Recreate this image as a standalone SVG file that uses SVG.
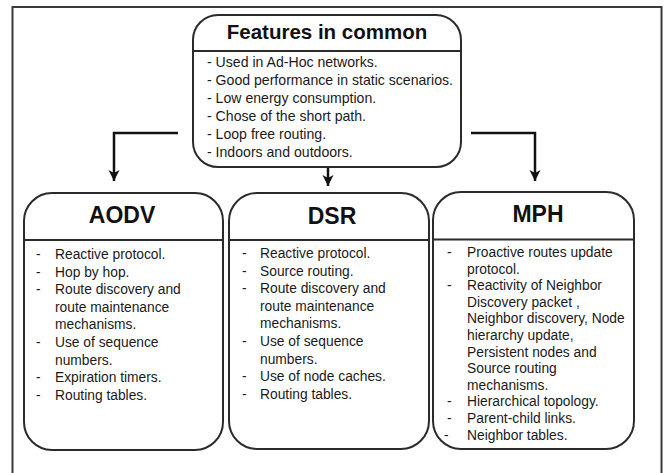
<svg xmlns="http://www.w3.org/2000/svg" width="666" height="473" viewBox="0 0 666 473">
<defs>
<style>
.frame{fill:#fff;stroke:#3a3a3a;stroke-width:2}
.box{fill:#fff;stroke:#2b2b2b;stroke-width:2}
.div{stroke:#2b2b2b;stroke-width:2}
.hd{font-family:"Liberation Sans",Arial,sans-serif;font-weight:bold;fill:#111;text-anchor:middle}
.tx{font-family:"Liberation Sans",Arial,sans-serif;font-size:13.8px;fill:#1a1a1a}
.tt{font-size:14.1px}
.conn{fill:none;stroke:#111;stroke-width:2.5}
</style>
<marker id="ah" markerUnits="userSpaceOnUse" markerWidth="12" markerHeight="12" viewBox="0 0 12 12" refX="11" refY="6" orient="auto">
<path d="M0,0.5 L11,6 L0,11.5 L3,6 z" fill="#111"/>
</marker>
</defs>
<rect x="0" y="0" width="666" height="473" fill="#fff"/>
<rect class="frame" x="12.5" y="7" width="649" height="480"/>

<g id="connectors">
<path class="conn" d="M178,133 H114 V181" marker-end="url(#ah)"/>
<path class="conn" d="M328,168 V186" marker-end="url(#ah)"/>
<path class="conn" d="M471,133 H535 V181" marker-end="url(#ah)"/>
</g>

<g id="common">
<rect class="box" x="193" y="15" width="268" height="152" rx="25"/>
<line class="div" x1="193" y1="51" x2="461" y2="51"/>
<text class="hd" x="327" y="39" font-size="20.5">Features in common</text>
<g class="tx tt">
<text x="207" y="67">- Used in Ad-Hoc networks.</text>
<text x="207" y="85">- Good performance in static scenarios.</text>
<text x="207" y="103">- Low energy consumption.</text>
<text x="207" y="121">- Chose of the short path.</text>
<text x="207" y="139">- Loop free routing.</text>
<text x="207" y="157">- Indoors and outdoors.</text>
</g>
</g>

<g id="aodv">
<rect class="box" x="24" y="193" width="199" height="257" rx="28"/>
<line class="div" x1="24" y1="240" x2="223" y2="240"/>
<text class="hd" x="122" y="223" font-size="23">AODV</text>
<g class="tx">
<text x="36" y="259">-</text><text x="55" y="259">Reactive protocol.</text>
<text x="36" y="276.6">-</text><text x="55" y="276.6">Hop by hop.</text>
<text x="36" y="294.2">-</text><text x="55" y="294.2">Route discovery and</text>
<text x="55" y="311.8">route maintenance</text>
<text x="55" y="329.4">mechanisms.</text>
<text x="36" y="347">-</text><text x="55" y="347">Use of sequence</text>
<text x="55" y="364.6">numbers.</text>
<text x="36" y="382.2">-</text><text x="55" y="382.2">Expiration timers.</text>
<text x="36" y="399.8">-</text><text x="55" y="399.8">Routing tables.</text>
</g>
</g>

<g id="dsr">
<rect class="box" x="229" y="193" width="200" height="256" rx="28"/>
<line class="div" x1="229" y1="240" x2="429" y2="240"/>
<text class="hd" x="332" y="224" font-size="23">DSR</text>
<g class="tx">
<text x="242" y="258">-</text><text x="260" y="258">Reactive protocol.</text>
<text x="242" y="275.6">-</text><text x="260" y="275.6">Source routing.</text>
<text x="242" y="293.2">-</text><text x="260" y="293.2">Route discovery and</text>
<text x="260" y="310.8">route maintenance</text>
<text x="260" y="328.4">mechanisms.</text>
<text x="242" y="346">-</text><text x="260" y="346">Use of sequence</text>
<text x="260" y="363.6">numbers.</text>
<text x="242" y="381.2">-</text><text x="260" y="381.2">Use of node caches.</text>
<text x="242" y="398.8">-</text><text x="260" y="398.8">Routing tables.</text>
</g>
</g>

<g id="mph">
<rect class="box" x="433" y="192" width="201" height="257" rx="28"/>
<line class="div" x1="433" y1="239.5" x2="634" y2="239.5"/>
<text class="hd" x="538" y="222" font-size="23">MPH</text>
<g class="tx">
<text x="447" y="257">-</text><text x="467" y="257">Proactive routes update</text>
<text x="467" y="273.6">protocol.</text>
<text x="447" y="290.2">-</text><text x="467" y="290.2">Reactivity of Neighbor</text>
<text x="467" y="306.8">Discovery packet ,</text>
<text x="467" y="323.4">Neighbor discovery, Node</text>
<text x="467" y="340">hierarchy update,</text>
<text x="467" y="356.6">Persistent nodes and</text>
<text x="467" y="373.2">Source routing</text>
<text x="467" y="389.8">mechanisms.</text>
<text x="447" y="406.4">-</text><text x="467" y="406.4">Hierarchical topology.</text>
<text x="447" y="423">-</text><text x="467" y="423">Parent-child links.</text>
<text x="444" y="439.6">-</text><text x="467" y="439.6">Neighbor tables.</text>
</g>
</g>
</svg>
